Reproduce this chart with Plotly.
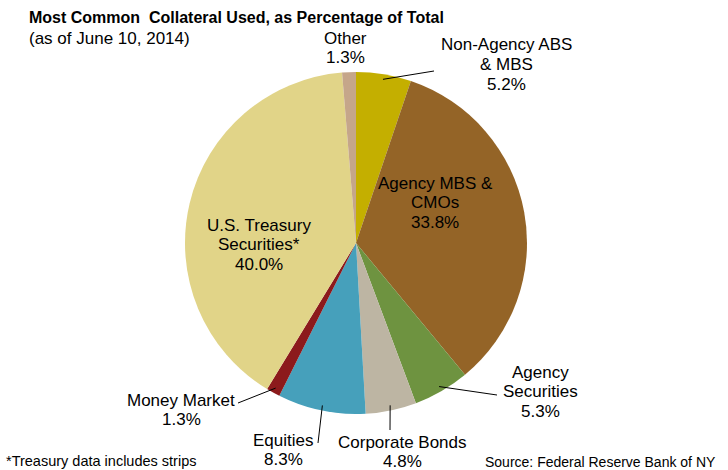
import math
import plotly.graph_objects as go

labels = ["Non-Agency ABS & MBS", "Agency MBS & CMOs", "Agency Securities", "Corporate Bonds",
          "Equities", "Money Market", "U.S. Treasury Securities*", "Other"]
values = [5.2, 33.8, 5.3, 4.8, 8.3, 1.3, 40.0, 1.3]
colors = ["#C4AF00", "#946427", "#6E9340", "#BDB5A3", "#46A0BB", "#8C1A1C", "#E1D488", "#C5A68A"]
label_lines = [["Non-Agency ABS", "& MBS", "5.2%"],
               ["Agency MBS &", "CMOs", "33.8%"],
               ["Agency", "Securities", "5.3%"],
               ["Corporate Bonds", "4.8%"],
               ["Equities", "8.3%"],
               ["Money Market", "1.3%"],
               ["U.S. Treasury", "Securities*", "40.0%"],
               ["Other", "1.3%"]]

W, H = 728, 470
CX, CY, R = 356, 243, 171  # pie geometry in px

# label block positions (px): center x, first line y
label_pos = [(506, 45), (435, 183), (540, 372), (402, 442), (283, 440), (181, 400), (259, 225), (345, 38)]
# leader line end points (px), None for no leader
leader_end = [(434, 71), None, (497, 395), (390, 430), (318, 443), (238, 403), None, None]

FONT = "Liberation Sans, Arial, sans-serif"


def px(x):
    return x / W


def py(y):
    return 1 - y / H


fig = go.Figure(go.Pie(
    labels=labels, values=values, sort=False, direction="clockwise", rotation=0,
    marker=dict(colors=colors, line=dict(width=0)),
    textinfo="none", showlegend=False,
    domain=dict(x=[px(CX - R), px(CX + R)], y=[py(CY + R), py(CY - R)]),
))

annotations = []
font = dict(family=FONT, size=17, color="#000000")
for lines, (lx, ly) in zip(label_lines, label_pos):
    for i, t in enumerate(lines):
        annotations.append(dict(x=px(lx), y=py(ly + i * 19.5), xref="paper", yref="paper",
                                text=t, showarrow=False, font=font,
                                xanchor="center", yanchor="middle"))

shapes = []
total = sum(values)
cum = 0
for v, end in zip(values, leader_end):
    mid = (cum + v / 2) / total * 2 * math.pi
    cum += v
    if end is None:
        continue
    sx = CX + R * 0.97 * math.sin(mid)
    sy = CY - R * 0.97 * math.cos(mid)
    shapes.append(dict(type="line", xref="paper", yref="paper",
                       x0=px(sx), y0=py(sy), x1=px(end[0]), y1=py(end[1]),
                       line=dict(color="#000000", width=1)))

annotations += [
    dict(x=px(27), y=py(17), xref="paper", yref="paper", xanchor="left", yanchor="middle",
         text="<b>Most Common  Collateral Used, as Percentage of Total</b>", showarrow=False,
         font=dict(family=FONT, size=16, color="#000000")),
    dict(x=px(27), y=py(38), xref="paper", yref="paper", xanchor="left", yanchor="middle",
         text="(as of June 10, 2014)", showarrow=False,
         font=dict(family=FONT, size=17, color="#000000")),
    dict(x=px(4), y=py(461), xref="paper", yref="paper", xanchor="left", yanchor="middle",
         text="*Treasury data includes strips", showarrow=False,
         font=dict(family=FONT, size=14.5, color="#000000")),
    dict(x=px(718), y=py(462), xref="paper", yref="paper", xanchor="right", yanchor="middle",
         text="Source: Federal Reserve Bank of NY", showarrow=False,
         font=dict(family=FONT, size=14, color="#000000")),
]

fig.update_layout(width=W, height=H, margin=dict(l=0, r=0, t=0, b=0),
                  paper_bgcolor="white", plot_bgcolor="white",
                  annotations=annotations, shapes=shapes)
fig.write_html("out.html", config={"displayModeBar": False},
               post_script="document.body.style.margin='0';document.body.style.overflow='hidden';")
